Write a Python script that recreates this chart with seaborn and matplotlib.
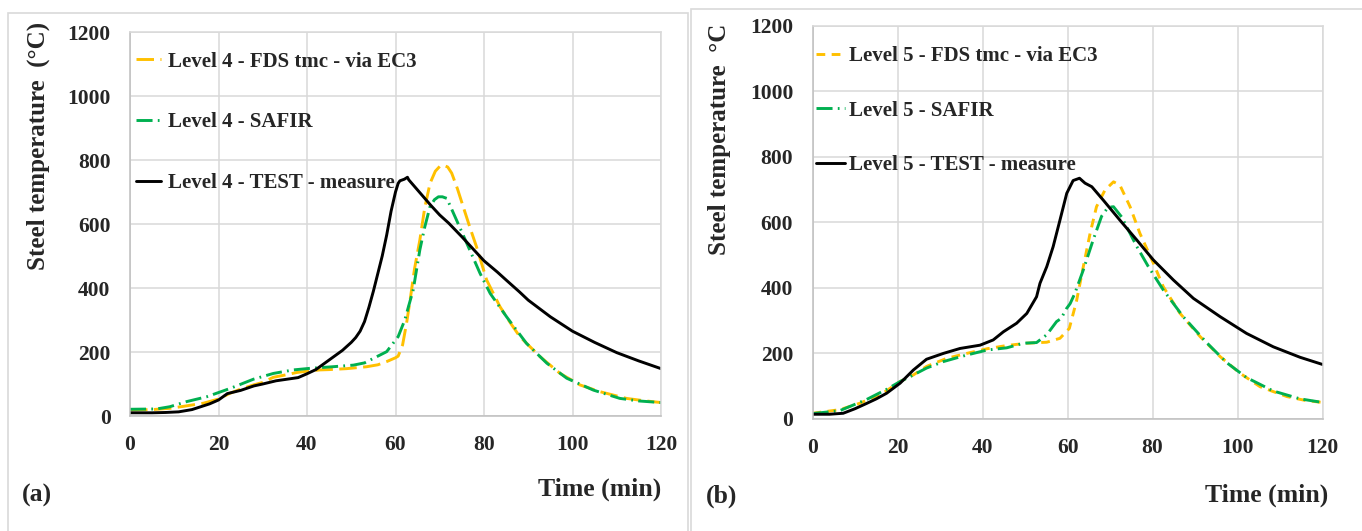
import numpy as np
import pandas as pd
import seaborn as sns
import matplotlib
matplotlib.use("Agg")
import matplotlib.pyplot as plt
from matplotlib.patches import Rectangle

# ---------------- data ----------------
# Level 4 (panel a)
t4_fds = [0, 5, 9, 12, 16.6, 20, 22.6, 25, 27.9, 30, 32.4, 35, 37.7, 40, 42.9, 45, 49, 53.5, 56, 58, 60,
          60.6, 61.6, 62.5, 63.3, 64.3, 65.5, 66.6, 67.8, 69, 70, 70.8, 71.8, 72.7, 74, 75.3, 76.8, 78.3,
          80.6, 83.6, 86, 88.1, 92.7, 97.2, 101.7, 106.2, 112.2, 116, 120]
T4_fds = [19, 20, 24, 30, 40, 53, 71, 84, 97, 105, 121, 128, 136, 140, 144, 145, 148, 154, 160, 170, 182,
          187, 222, 290, 362, 460, 550, 650, 727, 765, 780, 784, 778, 759, 710, 654, 590, 529,
          425, 342, 290, 248, 185, 133, 97, 76, 55, 48, 42]

t4_safir = [0, 6, 9, 12.8, 17.3, 22.6, 27.9, 32.4, 36.9, 40.7, 45.9, 50.5, 53, 55, 58, 60.6, 62.1, 63, 64,
            65.5, 66.6, 67.8, 68.8, 69.7, 70.6, 71.6, 73.8, 76.1, 79.1, 81.4, 85.1, 89.6, 94.2, 98.7,
            104.7, 110.7, 115, 120]
T4_safir = [21, 22, 29, 45, 60, 86, 115, 133, 144, 149, 154, 159, 166, 180, 201, 248, 300, 345, 394,
            519, 590, 654, 676, 685, 685, 680, 612, 540, 446, 383, 310, 227, 165, 118,
            81, 55, 47, 42]

t4_test = [0, 5, 8, 11, 14, 16, 18, 20, 22, 25, 28, 30, 33, 35, 38, 40, 42, 44, 46, 48, 50, 51, 52, 53,
           54, 55, 56, 57, 58, 59, 60, 60.6, 61, 62, 62.7, 63, 64, 65, 66, 68, 70, 72, 75, 78, 80, 83,
           85, 88, 90, 95, 100, 105, 110, 115, 120]
T4_test = [10, 10, 11, 13, 20, 29, 38, 50, 70, 80, 94, 100, 110, 114, 120, 132, 145, 165, 185, 205, 230,
           245, 265, 295, 340, 390, 445, 500, 565, 640, 700, 727, 735, 740, 746, 738, 722, 706, 690,
           658, 628, 603, 560, 515, 485, 450, 425, 388, 362, 310, 265, 230, 198, 172, 148]

# Level 5 (panel b)
t5_fds = [0, 6.4, 11.2, 16.6, 20.6, 23.7, 26.8, 31.6, 36.3, 41, 45.7, 50.4, 55.1, 58.2, 60.4, 62.1, 63.7,
          65.3, 66.8, 68.8, 70.8, 72.3, 74.7, 77, 80.2, 82.5, 86.4, 91.2, 95.9, 100.6, 105.3, 111.6,
          116, 120]
T5_fds = [16, 27, 47, 78, 113, 133, 159, 184, 199, 213, 223, 230, 233, 245, 275, 359, 464,
          566, 647, 698, 723, 713, 647, 566, 474, 403, 322, 250, 189, 138, 97, 67,
          55, 49]

t5_safir = [0, 6.4, 12.7, 17.4, 20.6, 23.7, 26.8, 30.8, 36.3, 41, 45.7, 49.6, 52.7, 55.1, 57.4, 58.5,
            59.7, 60.6, 61.7, 63.7, 66, 68, 69.5, 70.8, 72.7, 76.3, 79, 82.5, 87.2, 92.7, 97.4, 102.1,
            108.4, 114.7, 120]
T5_safir = [15, 24, 58, 89, 113, 133, 154, 174, 194, 209, 216, 230, 232, 256, 296, 306,
            335, 351, 382, 454, 545, 618, 645, 647, 616, 525, 464, 393, 311, 232, 171, 125,
            84, 60, 49]

t5_test = [0, 4, 7.2, 10, 12.7, 15, 17.4, 20.6, 23.7, 26.8, 30.8, 34.7, 39.4, 42.5, 44.9, 48, 50.4, 52.7,
           53.5, 55.1, 56.6, 58.2, 59.8, 61.3, 62.8, 64.1, 65.7, 68.4, 72.3, 76.3, 80.2, 84.9, 89.6,
           95.9, 102.1, 108.4, 114.7, 120]
T5_test = [13, 13, 16, 30, 46, 60, 77, 108, 148, 181, 199, 214, 224, 240, 265, 291, 321, 372,
           413, 464, 525, 606, 688, 727, 734, 719, 708, 667, 606, 545, 484, 423, 367,
           311, 260, 219, 187, 165]

labels4 = ["Level 4 - FDS tmc - via EC3", "Level 4 - SAFIR", "Level 4 - TEST - measure"]
labels5 = ["Level 5 - FDS tmc - via EC3", "Level 5 - SAFIR", "Level 5 - TEST - measure"]
x_ticks = [0, 20, 40, 60, 80, 100, 120]
y_ticks = [0, 200, 400, 600, 800, 1000, 1200]

# ---------------- style ----------------
sns.set_theme(style="white")
plt.rcParams['font.family'] = ['Liberation Serif', 'DejaVu Serif']
plt.rcParams['font.weight'] = 'bold'

YELLOW = "#FFC000"
GREEN = "#00B050"
BLACK = "#000000"
GRID = "#D9D9D9"

W, H = 1362, 531
fig = plt.figure(figsize=(W / 100, H / 100), dpi=100)

# panel frames
fig.patches.append(Rectangle((8 / W, -0.05), 680 / W, (H - 12.5) / H + 0.05, transform=fig.transFigure,
                             fill=False, edgecolor=GRID, lw=1.2))
fig.patches.append(Rectangle((690.5 / W, -0.05), 700 / W, (H - 9) / H + 0.05, transform=fig.transFigure,
                             fill=False, edgecolor=GRID, lw=1.2))


def make_df(ts, Ts, labs):
    frames = []
    for t, T, lab in zip(ts, Ts, labs):
        frames.append(pd.DataFrame({"t": t, "T": T, "series": lab}))
    return pd.concat(frames, ignore_index=True)


def draw(ax, df, labs, dashes_fds, ylabel, ylab_pos, xlab_pos, leg_anchor, leg_spacing, handlelen, textpad):
    palette = {labs[0]: YELLOW, labs[1]: GREEN, labs[2]: BLACK}
    dashes = {labs[0]: dashes_fds, labs[1]: (5.5, 1.8, 0.6, 1.8), labs[2]: ""}
    sns.lineplot(data=df, x="t", y="T", hue="series", style="series", hue_order=labs, style_order=labs,
                 palette=palette, dashes=dashes, estimator=None, sort=False, linewidth=2.1,
                 legend=False, ax=ax)
    ax.set_xlim(0, 120)
    ax.set_ylim(0, 1200)
    ax.set_xticks(x_ticks)
    ax.set_yticks(y_ticks)
    ax.grid(True, color=GRID, lw=1.1)
    ax.set_axisbelow(True)
    for s in ax.spines.values():
        s.set_color(GRID)
        s.set_linewidth(1.1)
    ax.spines['bottom'].set_color("#BFBFBF")
    ax.spines['left'].set_color("#BFBFBF")
    ax.tick_params(axis='both', length=0, labelsize=15.5, pad=14)
    for lab in ax.get_xticklabels() + ax.get_yticklabels():
        lab.set_fontweight('bold')
    ax.set_ylabel(ylabel, fontsize=18, fontweight='bold', va='center', ha='center')
    ax.yaxis.set_label_coords(*ylab_pos)
    ax.set_xlabel("Time (min)", fontsize=18.5, fontweight='bold', ha='right', va='center')
    ax.xaxis.set_label_coords(*xlab_pos)
    handles = ax.get_lines()[:3]
    ax.legend(handles, labs, loc='upper left', bbox_to_anchor=leg_anchor, frameon=False,
              prop={'weight': 'bold', 'size': 15}, labelspacing=leg_spacing,
              handlelength=handlelen, handletextpad=textpad, borderpad=0, borderaxespad=0)


# left axes
axL = fig.add_axes([130 / W, (H - 416) / H, 531 / W, 384 / H])
dfL = make_df([t4_fds, t4_safir, t4_test], [T4_fds, T4_safir, T4_test], labels4)
draw(axL, dfL, labels4, (6, 2.2), "Steel temperature  (°C)", (-0.172, 0.704), (1.0, -0.19),
     (0.011, 0.949), 1.95, 1.2, 0.35)

# right axes
axR = fig.add_axes([812.6 / W, (H - 418.5) / H, 510 / W, 392.8 / H])
dfR = make_df([t5_fds, t5_safir, t5_test], [T5_fds, T5_safir, T5_test], labels5)
draw(axR, dfR, labels5, (3, 2.2), "Steel temperature  °C", (-0.182, 0.712), (1.012, -0.195),
     (0.006, 0.948), 1.65, 1.4, 0.2)

fig.text(22 / W, (H - 495) / H, "(a)", fontsize=18.5, fontweight='bold', va='center', ha='left')
fig.text(706 / W, (H - 496) / H, "(b)", fontsize=18.5, fontweight='bold', va='center', ha='left')

fig.savefig("out.png", dpi=100)
